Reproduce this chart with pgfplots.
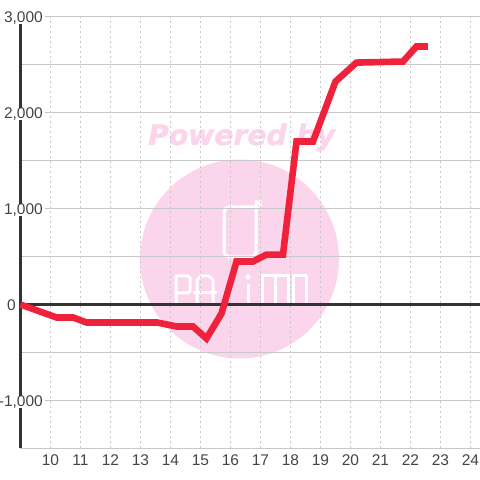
\documentclass[border=0pt]{standalone}
\usepackage{pgfplots}
\pgfplotsset{compat=1.18}
\usepackage{fontspec}
\setmainfont{Liberation Sans}
\newfontfamily\wmfont[BoldItalicFeatures={FakeBold=1.5}]{DejaVu Sans}
\definecolor{wm}{HTML}{FBD5EC}
\definecolor{gridc}{HTML}{C8C8C8}
\definecolor{dark}{HTML}{333333}
\definecolor{rline}{HTML}{F0213A}
\definecolor{lab}{HTML}{444444}
\begin{document}
\begin{tikzpicture}[x=1pt,y=1pt]
\useasboundingbox (0,0) rectangle (480,480);
% watermark
\begin{scope}[shift={(0,480)},yscale=-1]
\fill[wm] (239.5,259) circle (99.5);
\node[anchor=base west,inner sep=0pt,text=wm,font={\wmfont\fontsize{28.2}{29}\selectfont\bfseries\itshape}] at (148,145) {Powered by};
\begin{scope}[white,line width=3pt,line cap=round,line join=round]
\draw (256,209) -- (256,252) arc (0:90:5) -- (229,257) arc (90:180:5) -- (224,212) arc (180:270:5) -- (256,207);
\draw (256,212) -- (256,201) arc (180:0:2) -- (260,207);
% P
\draw (176,305) -- (176,276) -- (188,276) -- (190,278) -- (190,291) -- (188,293) -- (176,293);
% R
\draw (194,293) -- (216,293);
\draw (197,305) -- (197,280) -- (201,276) -- (209,276) -- (213,280) -- (213,305);
% i
\draw (248,285) -- (248,305);
\fill (248,277) circle (2.6);
% M
\draw (262,305) -- (262,276) -- (288,276) -- (288,305);
\draw (275,276) -- (275,305);
% O
\draw (293,276) -- (306,276) -- (306,305) -- (293,305) -- cycle;
\end{scope}
\end{scope}
\begin{axis}[
  at={(20.5pt,31.5pt)},anchor=south west,
  scale only axis,width=459.5pt,height=432pt,
  xmin=9,xmax=24.3167,ymin=-1500,ymax=3000,
  axis line style={draw=none},
  major tick length=0pt,
  tick style={draw=none},
  xtick={10,...,24},
  ytick={-1000,1000,2000,3000},
  yticklabels={{-1,000},{1,000},{2,000},{3,000}},
  extra y ticks={-1500,-500,0,500,1500,2500},
  extra y tick labels={},
  extra tick style={yticklabel style={fill=none}},
  xmajorgrids,ymajorgrids,
  x grid style={gridc,line width=1pt,dash pattern=on 2pt off 3pt},
  y grid style={gridc,line width=1pt},
  /pgf/number format/assume math mode=true,
  ticklabel style={font=\fontsize{15.5}{15.5}\selectfont,text=lab},
  yticklabel style={anchor=east,fill=white,inner xsep=2pt,inner ysep=1pt,text height=12.5pt,text depth=1.5pt},
  xticklabel style={anchor=center},
  xticklabel shift=12pt,
  yticklabel shift=-24.5pt,
  clip=false,
]
\addplot[dark,line width=3.2pt,forget plot] coordinates {(9,0) (24.3167,0)};
\addplot[dark,line width=3.2pt,forget plot] coordinates {(9,2917) (9,2052)};
\addplot[dark,line width=3.2pt,forget plot] coordinates {(9,1917) (9,1052)};
\addplot[dark,line width=3.2pt,forget plot] coordinates {(9,917) (9,-948)};
\addplot[dark,line width=3.2pt,forget plot] coordinates {(9,-1083) (9,-1500)};
\addplot[rline,line width=6.6pt,line join=miter,line cap=butt,forget plot] coordinates {
(9,0) (10.2,-135) (10.75,-135) (11.2,-187) (13.55,-187) (14.2,-229) (14.75,-229)
(15.2,-354) (15.7,-94) (16.2,448) (16.75,448) (17.2,520) (17.75,520)
(18.2,1698) (18.75,1698) (19.5,2323) (20.2,2520) (21.75,2531) (22.2,2688) (22.58,2688)};
\node[anchor=east,text=lab,font=\fontsize{15.5}{15.5}\selectfont,inner sep=0pt] at (axis cs:8.85,-5) {0};
\end{axis}
\end{tikzpicture}
\end{document}
